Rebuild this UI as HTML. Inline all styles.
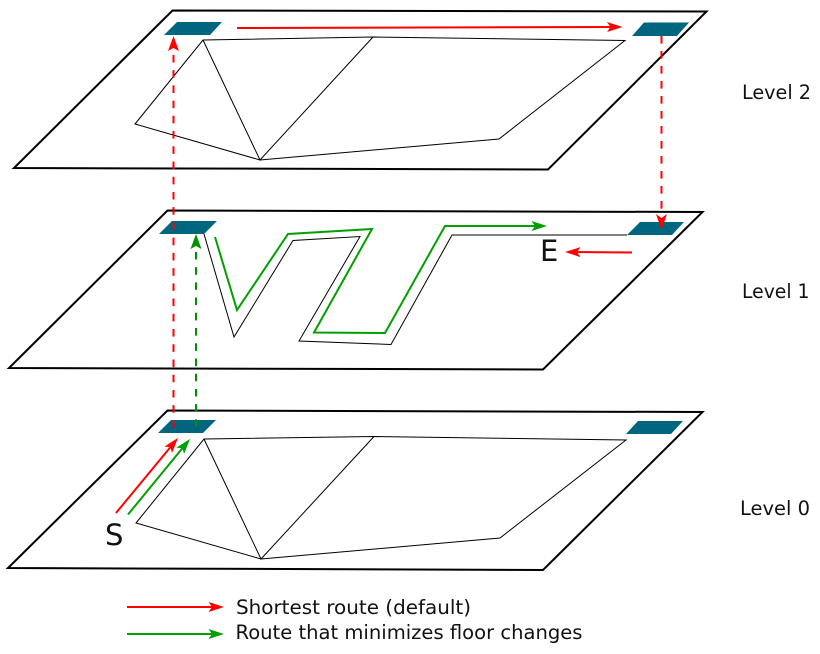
<!DOCTYPE html>
<html>
<head>
<meta charset="utf-8">
<style>
html,body{margin:0;padding:0;background:#fff;}
svg{display:block;}
text{font-family:"DejaVu Sans","Liberation Sans",sans-serif;fill:#111;}
</style>
</head>
<body>
<svg width="820" height="654" viewBox="0 0 820 654" xmlns="http://www.w3.org/2000/svg">
<defs>
<marker id="ar" markerUnits="userSpaceOnUse" markerWidth="40" markerHeight="40" refX="20" refY="20" orient="auto" viewBox="0 0 40 40"><path d="M24,20 L8.5,15 L12,20 L8.5,25 Z" fill="#ff0000"/></marker>
<marker id="ag" markerUnits="userSpaceOnUse" markerWidth="40" markerHeight="40" refX="20" refY="20" orient="auto" viewBox="0 0 40 40"><path d="M24,20 L8.5,15 L12,20 L8.5,25 Z" fill="#00a000"/></marker>
</defs>

<!-- plates -->
<g fill="none" stroke="#000" stroke-width="2">
<polygon points="172.5,10.5 706.5,11.5 548,169.5 14,168"/>
<polygon points="167.5,210.5 702.5,212 543,369.5 9,368"/>
<polygon points="167.5,410.5 702.5,412 543,570 8,568"/>
</g>

<!-- inner geometry -->
<g fill="none" stroke="#000" stroke-width="1">
<polygon points="135,124 203,40 373,37 625,40.5 499,139 260,160"/>
<path d="M203,40 L260,160 L373,37"/>
<polyline points="204,234 234,337 293,240.5 360,236.5 299,341 391,344.5 452,235 627,235"/>
<polygon points="136,523 204,439 374,436.5 626,440 500,538 261,559"/>
<path d="M204,439 L261,559 L374,436.5"/>
</g>

<!-- stairs -->
<g fill="#006680">
<polygon points="177,22 222,22 210,35 164,35"/>
<polygon points="644,22.5 689,22.5 677,36 632,36"/>
<polygon points="172,221 217,221 204,234 159,234"/>
<polygon points="640,222 684,222 672,235 627,235"/>
<polygon points="171,420 216,420 203,433 158,433"/>
<polygon points="638,421 683,421 671,434 626,434"/>
</g>

<!-- dashed connectors -->
<g fill="none" stroke-width="2">
<line x1="173.5" y1="428" x2="173.5" y2="48" stroke="#ff0000" stroke-dasharray="7.6 7.63"/>
<line x1="196" y1="427" x2="196" y2="246" stroke="#009000" stroke-dasharray="7.6 7.63"/>
<line x1="661.5" y1="36" x2="661.5" y2="216" stroke="#ff0000" stroke-dasharray="7.6 7.4"/>
</g>
<polygon points="173.5,36 179,51 173.5,48 168,51" fill="#ff0000"/>
<polygon points="196,234 201.5,249 196,246 190.5,249" fill="#009000"/>
<polygon points="661.5,230 667,214 661.5,218 656,214" fill="#ff0000"/>

<!-- solid arrows -->
<g fill="none" stroke-width="2">
<line x1="237" y1="28" x2="618.5" y2="27" stroke="#ff0000" marker-end="url(#ar)"/>
<line x1="632" y1="252.5" x2="569" y2="252" stroke="#ff0000" marker-end="url(#ar)"/>
<line x1="116" y1="513" x2="175.5" y2="441" stroke="#ff0000" marker-end="url(#ar)"/>
<line x1="128" y1="514.5" x2="187.5" y2="442" stroke="#00a000" marker-end="url(#ag)"/>
<polyline points="215,237 237,310 288,234 372,229 314,332.5 385,333 445,226 543,226" stroke="#00a000" marker-end="url(#ag)"/>
<line x1="127" y1="607" x2="220" y2="607" stroke="#ff0000" marker-end="url(#ar)"/>
<line x1="127" y1="634" x2="220" y2="634" stroke="#00a000" marker-end="url(#ag)"/>
</g>

<!-- labels -->
<text x="742" y="99" font-size="19.8" textLength="69" lengthAdjust="spacingAndGlyphs">Level 2</text>
<text x="742" y="298" font-size="19.8" textLength="67.5" lengthAdjust="spacingAndGlyphs">Level 1</text>
<text x="740" y="515" font-size="19.8" textLength="70" lengthAdjust="spacingAndGlyphs">Level 0</text>
<text x="540" y="261" font-size="29">E</text>
<text x="105" y="545" font-size="29">S</text>
<text x="236" y="614" font-size="19.8" textLength="235" lengthAdjust="spacingAndGlyphs">Shortest route (default)</text>
<text x="235.5" y="639" font-size="19.8" textLength="347" lengthAdjust="spacingAndGlyphs">Route that minimizes floor changes</text>
</svg>
</body>
</html>
